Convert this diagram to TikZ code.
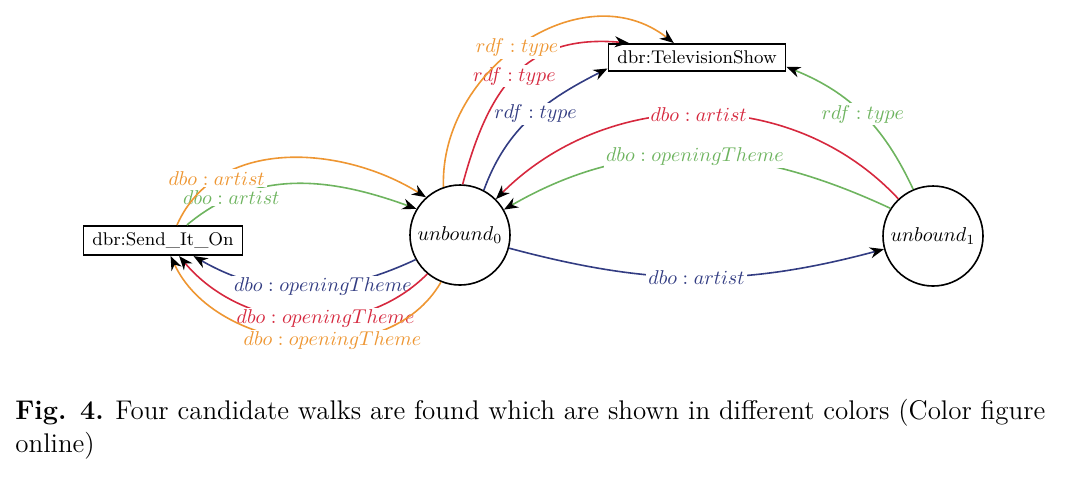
\documentclass[tikz,border=0pt]{standalone}
\usetikzlibrary{arrows.meta}
\definecolor{walkred}{RGB}{214,40,62}
\definecolor{walkblue}{RGB}{50,60,130}
\definecolor{walkgreen}{RGB}{110,180,95}
\definecolor{walkorange}{RGB}{238,150,50}
\begin{document}
\begin{tikzpicture}[x=0.5pt,y=0.5pt,
  box/.style={draw, line width=0.8pt, inner xsep=4.5pt, inner ysep=3.5pt, font=\fontsize{9.2}{11}\selectfont},
  unode/.style={draw, circle, line width=0.8pt, minimum size=50pt, inner sep=0pt, font=\fontsize{9.7}{11}\selectfont},
  lbl/.style={fill=white, inner sep=1pt, font=\fontsize{9.7}{11}\selectfont},
  walk/.style={line width=0.8pt, #1, -{Stealth[black,length=7pt,width=5.5pt]}}]
\useasboundingbox (0,0) rectangle (1080,-479);
\node[box] (send) at (163,-240.5) {dbr:Send\_It\_On};
\node[box] (tv) at (697,-57.5) {dbr:TelevisionShow};
\node[unode] (u0) at (460,-235) {$unbound_0$};
\node[unode] (u1) at (933,-236) {$unbound_1$};
% blue walk
\draw[walk=walkblue] (u0.-15) to[out=-15,in=195] node[lbl]{$dbo : artist$} (u1.195);
\draw[walk=walkblue] (u0.62) to[out=70,in=207] node[lbl,pos=0.53]{$rdf : type$} (tv.187);
\draw[walk=walkblue] (u0.209) to[out=205,in=-30] node[lbl,pos=0.41]{$dbo : openingTheme$} (send.-27);
% red walk
\draw[walk=walkred] (u1.133) to[out=133,in=45] node[lbl]{$dbo : artist$} (u0.45);
\draw[walk=walkred] (u0.87) to[out=75,in=175,looseness=1.2] node[lbl,pos=0.48]{$rdf : type$} (tv.168);
\draw[walk=walkred] (u0.230) to[out=225,in=-50] node[lbl,pos=0.41]{$dbo : openingTheme$} (send.-44);
% green walk
\draw[walk=walkgreen] (u1.147) to[out=155,in=30] node[lbl]{$dbo : openingTheme$} (u0.30);
\draw[walk=walkgreen] (u1.113) to[out=115,in=-22] node[lbl]{$rdf : type$} (tv.-6);
\draw[walk=walkgreen] (send.33) to[out=40,in=160] node[lbl,pos=0.21]{$dbo : artist$} (u0.149);
% orange walk
\draw[walk=walkorange] (u0.109) to[out=92,in=142,looseness=1.1] node[lbl,pos=0.48]{$rdf : type$} (tv.148);
\draw[walk=walkorange] (send.48) to[out=66,in=148] node[lbl,pos=0.23]{$dbo : artist$} (u0.132);
\draw[walk=walkorange] (u0.248) to[out=240,in=-65] node[lbl,pos=0.41]{$dbo : openingTheme$} (send.-64);
% caption
\node[anchor=north west, align=left, inner sep=0pt, font=\fontsize{13.5}{16.5}\selectfont] (cap) at (15,-399)
  {\textbf{Fig. 4.} Four candidate walks are found which are shown in different colors (Color figure\\online)};
\end{tikzpicture}
\end{document}
